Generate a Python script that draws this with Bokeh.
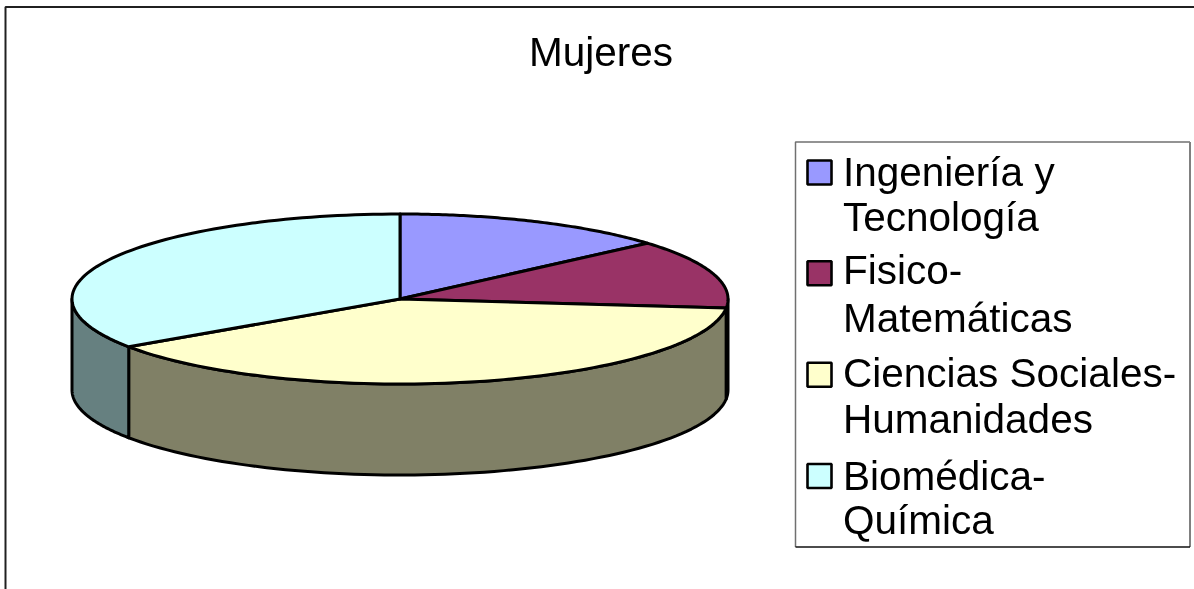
import numpy as np
from bokeh.plotting import figure
from bokeh.models import Range1d
from bokeh.core.properties import value
from bokeh.embed import file_html
from bokeh.resources import INLINE

title = "Mujeres"
categories = ["Ingeniería y\nTecnología", "Fisico-\nMatemáticas",
              "Ciencias Sociales-\nHumanidades", "Biomédica-\nQuímica"]
shares = [13.6, 13.1, 38.8, 34.5]
top_colors = ["#9999FF", "#993366", "#FFFFCC", "#CCFFFF"]
side_colors = ["#4D4D80", "#4D1A33", "#808066", "#668080"]

W, H = 1194, 589
CX, CY, RX, RY, DEPTH = 399.5, 298.5, 328, 85, 91
FONT = value("Liberation Sans")

p = figure(width=W, height=H, output_backend="svg", toolbar_location=None,
           x_range=Range1d(0, W), y_range=Range1d(H, 0),
           min_border=0, outline_line_color=None, background_fill_color="white",
           styles={"position": "fixed", "left": "0px", "top": "0px"})
p.axis.visible = False
p.grid.visible = False

# chart frame: top and left only (the page crops the rest)
p.line([5, 5, W], [H, 6.5, 6.5], line_color="#202020", line_width=2)


def arc(a, b, n=80):
    t = np.radians(np.linspace(a, b, n))
    return CX + RX * np.sin(t), CY - RY * np.cos(t)


edges = np.concatenate([[0], np.cumsum(shares)]) / np.sum(shares) * 360

# side wall, front half only
for i in range(len(shares)):
    a, b = max(edges[i], 90), min(edges[i + 1], 270)
    if b <= a:
        continue
    x, y = arc(a, b)
    p.patch(np.r_[x, x[::-1]], np.r_[y, y[::-1] + DEPTH],
            fill_color=side_colors[i], line_color="black", line_width=3,
            line_join="round")

# top face
for i in range(len(shares)):
    x, y = arc(edges[i], edges[i + 1])
    p.patch(np.r_[CX, x], np.r_[CY, y], fill_color=top_colors[i],
            line_color="black", line_width=3, line_join="round")

# title
p.text([600.5], [51], text=[title], text_font=FONT, text_font_size="40.5px",
       text_align="center", text_baseline="alphabetic", text_color="black")

# legend box
LX0, LX1, LY0, LY1 = 795, 1189.5, 141.5, 546.5
p.line([LX0, LX0, LX1], [LY1, LY0, LY0], line_color="#707070", line_width=1.5)
p.line([LX1, LX1], [LY0, LY1], line_color="#808080", line_width=2)
p.line([LX0, LX1], [LY1, LY1], line_color="#101010", line_width=1.5)

baselines = [(171, 216), (269, 317), (372, 418), (475, 519)]
swatch_y = [172, 272.7, 374.3, 475.5]
for label, color, ys, sy in zip(categories, top_colors, baselines, swatch_y):
    p.rect([819], [sy], width=24, height=24, fill_color=color,
           line_color="black", line_width=2.6)
    p.text([842.5, 842.5], list(ys), text=label.split("\n"), text_font=FONT,
           text_font_size="40.5px", text_align="left",
           text_baseline="alphabetic", text_color="black")

open("out.html", "w").write(file_html(p, INLINE))
